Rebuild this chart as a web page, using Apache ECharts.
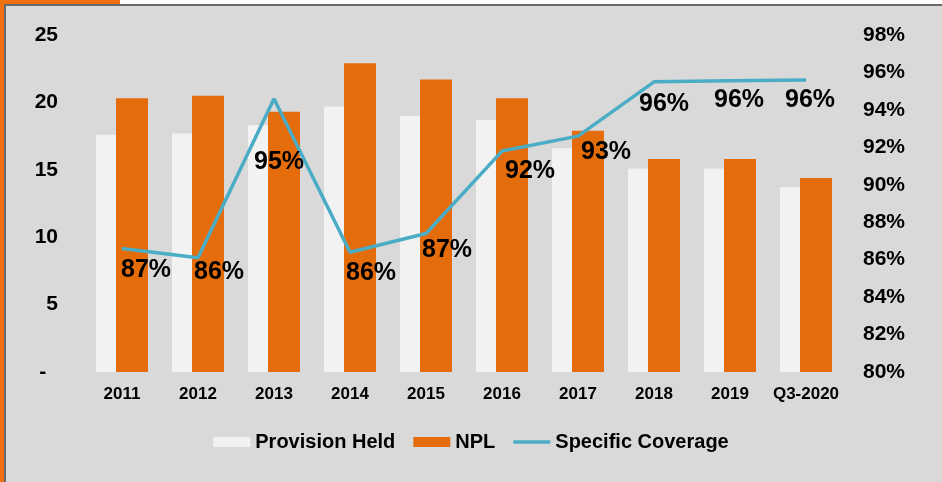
<!DOCTYPE html>
<html>
<head>
<meta charset="utf-8">
<script src="https://cdn.jsdelivr.net/npm/echarts@6/dist/echarts.min.js"></script>
<style>
  body { margin: 0; background: #ffffff; }
  .frame { position: absolute; left: 0; top: 0; width: 942px; height: 482px; background: #d9d9d9; }
  .chart-main { position: absolute; left: 0; top: 0; width: 942px; height: 482px; }
  .strip { position: absolute; }
</style>
</head>
<body>
<div class="frame">
  <div class="chart-main"></div>
  <div class="strip" style="left:120px;top:0;width:822px;height:4px;background:#ffffff"></div>
  <div class="strip" style="left:0;top:0;width:120px;height:4px;background:#f07010"></div>
  <div class="strip" style="left:0;top:0;width:4px;height:482px;background:#f07010"></div>
  <div class="strip" style="left:4px;top:4px;width:938px;height:1.5px;background:#6a6a6a"></div>
  <div class="strip" style="left:4px;top:4px;width:1.5px;height:478px;background:#6a6a6a"></div>
</div>
<script>
  // chart values
  var categories = ['2011', '2012', '2013', '2014', '2015', '2016', '2017', '2018', '2019', 'Q3-2020']
  var provisionHeld = [17.6, 17.7, 18.3, 19.7, 19.0, 18.7, 16.6, 15.1, 15.1, 13.7]
  var npl = [20.3, 20.5, 19.3, 22.9, 21.7, 20.3, 17.9, 15.8, 15.8, 14.4]
  var coverage = [86.6, 86.1, 94.6, 86.4, 87.4, 91.8, 92.6, 95.5, 95.55, 95.6]
  // where each coverage label sits relative to its point
  var labelOffsets = [[24, 22], [21, 14], [5, 63], [21, 21], [21, 17], [28, 20], [28, 16], [10, 22], [9, 19], [4, 20]]

  var coverageData = coverage.map(function (v, i) {
    return { value: v, label: { offset: labelOffsets[i] } }
  })

  var option = {
    animation: false,
    backgroundColor: 'transparent',
    textStyle: { fontFamily: 'Liberation Sans, Arial, sans-serif' },
    grid: { left: 84, right: 98, top: 35, bottom: 110 },
    legend: {
      top: 427,
      left: 'center',
      itemWidth: 37,
      itemHeight: 10,
      itemGap: 18,
      textStyle: { fontSize: 20, fontWeight: 'bold', color: '#000' },
      data: [
        { name: 'Provision Held', icon: 'rect' },
        { name: 'NPL', icon: 'rect' },
        { name: 'Specific Coverage', icon: 'path://M0,0 L40,0 L40,4 L0,4 Z' }
      ]
    },
    xAxis: [
      {
        type: 'category',
        data: categories,
        axisLine: { show: false },
        axisTick: { show: false },
        axisLabel: { interval: 0, fontSize: 17, fontWeight: 'bold', color: '#000', margin: 14 }
      }
    ],
    yAxis: [
      {
        type: 'value',
        min: 0,
        max: 25,
        interval: 5,
        splitLine: { show: false },
        axisLine: { show: false },
        axisTick: { show: false },
        axisLabel: {
          fontSize: 21,
          fontWeight: 'bold',
          color: '#000',
          margin: 26,
          formatter: function (v) { return v === 0 ? '-  ' : v }
        }
      },
      {
        type: 'value',
        min: 80,
        max: 98,
        interval: 2,
        splitLine: { show: false },
        axisLine: { show: false },
        axisTick: { show: false },
        axisLabel: { fontSize: 21, fontWeight: 'bold', color: '#000', margin: 19, formatter: '{value}%' }
      }
    ],
    series: [
      {
        name: 'Provision Held',
        type: 'bar',
        barWidth: 32,
        barGap: '-37.5%',
        itemStyle: { color: '#f2f2f2' },
        data: provisionHeld
      },
      {
        name: 'NPL',
        type: 'bar',
        barWidth: 32,
        itemStyle: { color: '#e46c0a' },
        data: npl
      },
      {
        name: 'Specific Coverage',
        type: 'line',
        yAxisIndex: 1,
        symbol: 'circle',
        symbolSize: 1,
        z: 5,
        lineStyle: { color: '#4bacc6', width: 3.5 },
        itemStyle: { color: '#4bacc6' },
        label: {
          show: true,
          position: 'inside',
          fontSize: 25,
          fontWeight: 'bold',
          color: '#000',
          formatter: function (p) { return Math.round(p.value) + '%' }
        },
        data: coverageData
      }
    ]
  }

  var chart = echarts.init(document.querySelector('.chart-main'))
  chart.setOption(option)
</script>
</body>
</html>
